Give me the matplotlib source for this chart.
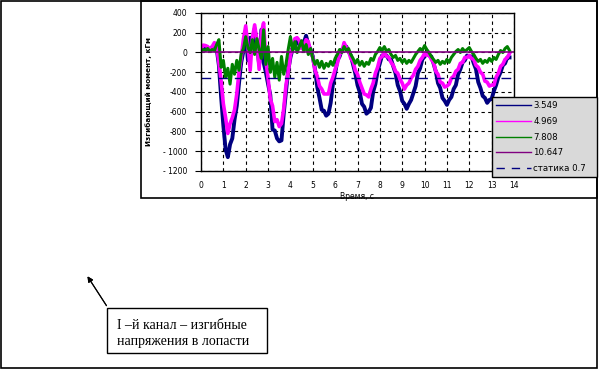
import numpy as np
import matplotlib
matplotlib.use('Agg')
import matplotlib.pyplot as plt
from matplotlib.lines import Line2D
from matplotlib.patches import Rectangle

# time grid of the recording, s
t = np.round(np.arange(0, 13.85, 0.1), 1)

# bending moment, kGm
m_3549 = [20, 50, 60, 45, 30, 55, 70, 40, -130, -450,
          -740, -980, -1060, -930, -870, -680, -540, -310, -100, 20,
          180, -80, 150, 30, 240, 90, -120, 230, -100, -200,
          -320, -430, -780, -790, -870, -900, -890, -620, -400, -180,
          -50, 40, 50, 130, 90, 50, 100, 170, 80, 30,
          -40, -170, -350, -460, -580, -590, -640, -620, -510, -320,
          -210, -80, -40, 30, 50, 60, 10, -30, -120, -210,
          -330, -400, -520, -550, -620, -600, -560, -400, -320, -190,
          -110, -30, -30, -30, -70, -70, -140, -210, -330, -390,
          -490, -520, -570, -520, -480, -410, -340, -210, -160, -70,
          -40, -10, -30, -40, -110, -190, -310, -360, -460, -490,
          -530, -480, -450, -370, -330, -220, -170, -100, -80, -30,
          -40, -40, -110, -170, -300, -360, -440, -460, -510, -480,
          -470, -390, -330, -250, -200, -130, -110, -50, -50]
m_4969 = [30, 75, 70, 60, 30, 60, 100, 60, -100, -290,
          -520, -660, -820, -720, -660, -580, -420, -200, -50, 140,
          270, 60, -180, 150, 280, 120, -170, 200, 300, -80,
          -260, -470, -540, -700, -680, -750, -720, -570, -330, -200,
          -30, 60, 140, 150, 120, 40, 70, 130, 110, 10,
          -50, -180, -240, -340, -370, -420, -420, -420, -310, -250,
          -170, -110, -20, 10, 100, 50, 20, -60, -90, -180,
          -220, -300, -360, -420, -430, -450, -370, -310, -210, -150,
          -60, -40, 0, -40, -50, -100, -130, -190, -210, -270,
          -310, -370, -330, -310, -260, -230, -170, -140, -80, -50,
          -10, -30, -20, -70, -100, -190, -220, -300, -310, -350,
          -340, -320, -260, -240, -190, -170, -110, -100, -50, -50,
          -30, -60, -70, -130, -150, -200, -220, -290, -300, -340,
          -330, -330, -250, -210, -140, -120, -70, -50, -10]
m_7808 = [10, 30, 20, 40, 10, 30, 20, 80, 130, -150,
          -80, -250, -160, -320, -120, -220, -80, -180, -10, 40,
          160, 50, 0, 130, -20, 140, 30, -60, 230, -120,
          60, -200, -60, -250, -100, -280, -40, -220, -120, 30,
          160, 20, 110, 0, 60, 120, 10, 80, -20, 40,
          -60, -120, -80, -150, -90, -160, -110, -140, -90, -130,
          -60, -20, 30, 0, 60, 20, 40, -20, -60, -110,
          -70, -130, -90, -140, -100, -120, -60, -80, -20, 10,
          50, 20, 60, 10, 30, -20, -50, -30, -80, -60,
          -100, -70, -110, -80, -100, -60, -20, 10, 40, 20,
          70, 30, 0, -40, -70, -100, -80, -120, -90, -110,
          -70, -100, -50, -20, 10, 30, 0, 40, 10, 30,
          50, 10, -20, -60, -90, -70, -110, -80, -100, -60,
          -90, -50, -70, -20, 20, 0, 40, 60, 20]
t_flat = [0, 14]
m_10647 = [0, 0]
m_static = [-260, -260]

labels = ['3.549', '4.969', '7.808', '10.647', 'статика 0.7']
colors = ['#000080', '#ff00ff', '#008000', '#800080', '#000080']

W, H = 600, 370
fig = plt.figure(figsize=(6, 3.7), dpi=100, facecolor='white')

# frames of the page and of the chart
fig.add_artist(Rectangle((1 / W, 2 / H), 596 / W, 367 / H, transform=fig.transFigure,
                         fill=False, edgecolor='black', lw=1.2))
fig.add_artist(Rectangle((141 / W, 172 / H), 456 / W, 197 / H, transform=fig.transFigure,
                         fill=False, edgecolor='black', lw=1.2))

ax = fig.add_axes([201 / W, 1 - 171 / H, 313 / W, 158 / H])
ax.plot(t, m_3549, color=colors[0], lw=2.8)
ax.plot(t, m_4969, color=colors[1], lw=2.6)
ax.plot(t, m_7808, color=colors[2], lw=2.2)
ax.plot(t_flat, m_10647, color=colors[3], lw=1.2)
ax.plot(t_flat, m_static, color=colors[4], lw=1.0, dashes=(7, 5))

ax.set_xlim(0, 14)
ax.set_ylim(-1200, 400)
ax.set_xticks(range(0, 15))
yt = list(range(400, -1201, -200))
ax.set_yticks(yt)
ax.set_yticklabels([str(v) if v > -1000 else '- ' + str(-v) for v in yt])
ax.grid(True, color='black', lw=0.8, ls=(0, (3, 3)))
ax.set_axisbelow(True)
for s in ax.spines.values():
    s.set_linewidth(1.0)
ax.tick_params(axis='y', length=4, pad=6, labelsize=5.5, direction='out')
ax.tick_params(axis='x', length=0, pad=7, labelsize=5.5)
ax.set_xlabel('Время, с', fontsize=5.5, labelpad=2)
ax.set_ylabel('Изгибающий момент, кГм', fontsize=5.2, fontweight='bold', labelpad=8)

handles = [Line2D([], [], color=c, lw=1.0) for c in colors[:4]]
handles.append(Line2D([], [], color=colors[4], lw=1.0, dashes=(6, 5)))
leg = fig.legend(handles, labels, loc='upper left',
                 bbox_to_anchor=(492 / W, 1 - 175 / H, 105 / W, 78 / H), mode='expand',
                 fontsize=6.2, frameon=True, fancybox=False, borderaxespad=0,
                 handlelength=4.0, handletextpad=0.3, labelspacing=0.78, borderpad=0.5)
leg.get_frame().set_facecolor('#d9d9d9')
leg.get_frame().set_edgecolor('black')
leg.get_frame().set_linewidth(1.0)
leg.get_frame().set_alpha(1)

# note with arrow
fig.add_artist(Rectangle((107 / W, 1 - 353 / H), 160 / W, 45 / H, transform=fig.transFigure,
                         facecolor='white', edgecolor='black', lw=1.0))
fig.text(117 / W, 1 - 333.5 / H, 'I –й канал – изгибные\nнапряжения в лопасти',
         fontsize=10, family='Liberation Serif', va='center', ha='left', linespacing=1.35)
fig.add_artist(plt.annotate('', xy=(86, H - 274), xytext=(108, H - 308),
                            xycoords='figure pixels', textcoords='figure pixels',
                            arrowprops=dict(arrowstyle='-|>', color='black', lw=0.8,
                                            mutation_scale=8)))

fig.savefig('out.png', dpi=100)
